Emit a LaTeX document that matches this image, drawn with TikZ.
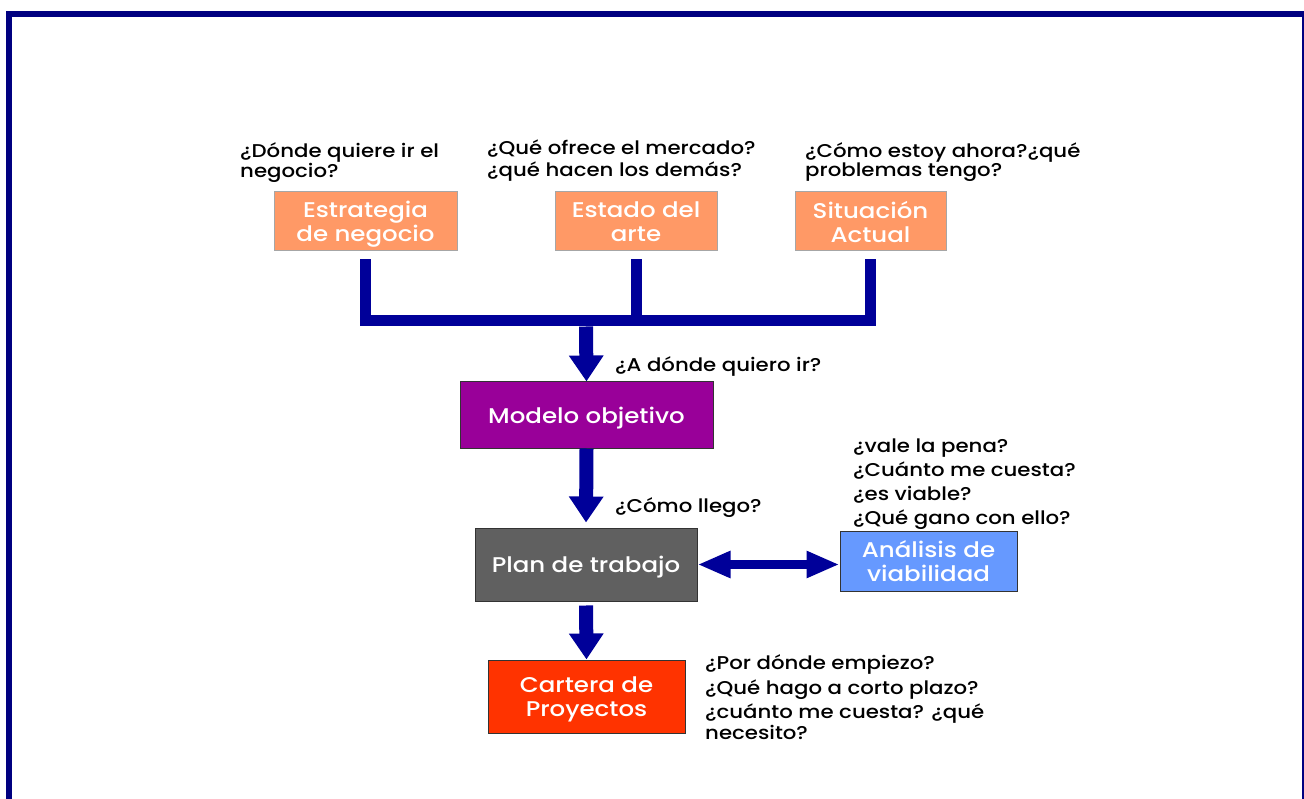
\documentclass[tikz,border=0pt]{standalone}
\usepackage{fontspec}
\setmainfont{Poppins}[UprightFont=* Medium, FakeStretch=1.15]
\usetikzlibrary{arrows.meta,calc}
\definecolor{framec}{HTML}{000080}
\definecolor{flowc}{HTML}{000099}
\definecolor{salmon}{HTML}{FF9966}
\definecolor{purplec}{HTML}{990099}
\definecolor{greyc}{HTML}{606060}
\definecolor{bluec}{HTML}{6699FF}
\definecolor{redc}{HTML}{FF3300}
\tikzset{
  box/.style={draw=#1, line width=1pt, align=center, text=white, inner sep=0pt,
    text depth=0pt, font={\fontsize{21.3}{24}\selectfont}},
  question/.style={anchor=base west, align=left, inner sep=0pt, text=black,
    font={\fontsize{18.5}{20}\selectfont}},
  bar/.style={draw=flowc, line width=11pt, line join=miter},
  downarrow/.style={draw=flowc, line width=14pt,
    -{Triangle[length=26pt,width=33pt]}},
  sidearrow/.style={draw=flowc, line width=9pt,
    {Triangle[length=33pt,width=25pt]}-{Triangle[length=33pt,width=25pt]}}
}
\begin{document}
\begin{tikzpicture}[x=1pt,y=-1pt]
\useasboundingbox (0,0) rectangle (1304,799);
\begin{scope}
\clip (0,0) rectangle (1304,799);
\draw[framec, line width=6pt] (9,14) rectangle (1305,806);
\end{scope}

% top row of inputs
\node[box=gray!70, fill=salmon, minimum width=183pt, minimum height=59pt] (est) at (365.5,221.5) {Estrategia\\de negocio};
\node[box=gray!70, fill=salmon, minimum width=162pt, minimum height=59pt] (arte) at (636,221.5) {Estado del\\arte};
\node[box=gray!70, fill=salmon, minimum width=151pt, minimum height=59pt] (sit) at (870.5,221.5) {Situación\\Actual};

% main chain
\node[box=black!80, fill=purplec, minimum width=253pt, minimum height=66pt] (modelo) at (586.5,415) {Modelo objetivo};
\node[box=black!80, fill=greyc, minimum width=222pt, minimum height=73pt] (plan) at (586,564.5) {Plan de trabajo};
\node[box=black!80, fill=bluec, minimum width=177pt, minimum height=60pt] (anal) at (928.5,561) {Análisis de\\viabilidad};
\node[box=black!80, fill=redc, minimum width=197pt, minimum height=73pt] (cartera) at (586.5,696.5) {Cartera de\\Proyectos};

% questions (anchored at the baseline of their last line)
\node[question] (q1) at (240,178) {¿Dónde quiere ir el\\negocio?};
\node[question, font={\fontsize{18.5}{22}\selectfont}] (q2) at (487,177) {¿Qué ofrece el mercado?\\¿qué hacen los demás?};
\node[question, font={\fontsize{18.5}{19}\selectfont}] (q3) at (805,177) {¿Cómo estoy ahora?¿qué\\problemas tengo?};
\node[question] (q4) at (615,372) {¿A dónde quiero ir?};
\node[question] (q5) at (615,512) {¿Cómo llego?};
\node[question, font={\fontsize{18.5}{24}\selectfont}] (q6) at (853,524) {¿vale la pena?\\¿Cuánto me cuesta?\\¿es viable?\\¿Qué gano con ello?};
\node[question, font={\fontsize{18.5}{21}\selectfont}] (q7) at (705,739) {¿Por dónde empiezo?\\[4pt]¿Qué hago a corto plazo?\\[3pt]¿cuánto me cuesta? ¿qué\\necesito?};

% merging connector
\coordinate (join) at (586,321);
\draw[bar] ($(est.south)+(0,8)$) |- (join) -| ($(sit.south)+(0,8)$);
\draw[bar] ($(arte.south)+(0,8)$) -- (arte.south |- join);
\draw[downarrow] ([yshift=-5.5pt]join) -- (modelo.north);

\draw[downarrow, shorten >=5pt] (modelo.south) -- (plan.north);
\draw[downarrow, shorten <=4pt] (plan.south) -- (cartera.north);
\draw[sidearrow] (plan.east) -- (plan.east -| anal.west);
\end{tikzpicture}
\end{document}
